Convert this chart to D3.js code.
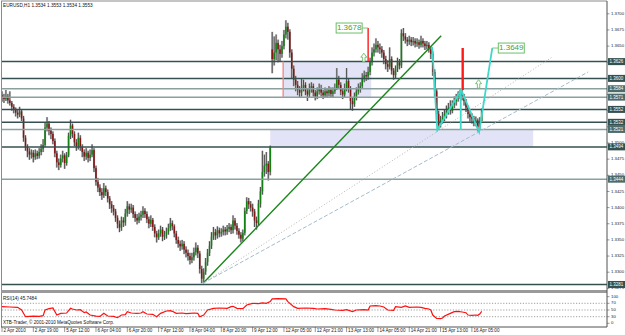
<!DOCTYPE html>
<html><head><meta charset="utf-8">
<script src="https://cdn.jsdelivr.net/npm/d3@7"></script>
<style>body{margin:0;background:#fff;} svg{display:block;font-family:"Liberation Sans",Arial,sans-serif;}</style>
</head><body><svg id="c" width="625" height="335"></svg>
<script>
// ---------- DATA ----------
const titleText = "EURUSD,H1  1.3534 1.3553 1.3534 1.3553";
const firstOpen = 1.3574;
const gapBars = [138];
const gapOpens = [1.3645];
const closes = [
1.3570,1.3568,1.3572,1.3566,1.3562,1.3556,1.3551,1.3547,1.3544,1.3549,
1.3538,1.3508,1.3494,1.3487,1.3482,1.3485,1.3478,1.3484,1.3480,1.3486,
1.3491,1.3497,1.3524,1.3530,1.3519,1.3514,1.3503,1.3484,1.3470,1.3466,
1.3476,1.3481,1.3469,1.3481,1.3511,1.3527,1.3514,1.3501,1.3495,1.3508,
1.3494,1.3486,1.3479,1.3485,1.3477,1.3482,1.3489,1.3461,1.3440,1.3431,
1.3424,1.3419,1.3430,1.3424,1.3414,1.3405,1.3399,1.3394,1.3384,1.3375,
1.3369,1.3380,1.3377,1.3391,1.3402,1.3397,1.3400,1.3390,1.3384,1.3380,
1.3386,1.3389,1.3395,1.3390,1.3382,1.3375,1.3381,1.3370,1.3360,1.3354,
1.3360,1.3366,1.3355,1.3358,1.3363,1.3368,1.3376,1.3371,1.3360,1.3350,
1.3344,1.3340,1.3344,1.3335,1.3330,1.3325,1.3319,1.3323,1.3331,1.3338,
1.3329,1.3305,1.3290,1.3301,1.3316,1.3330,1.3341,1.3355,1.3362,1.3357,
1.3365,1.3360,1.3362,1.3366,1.3363,1.3367,1.3370,1.3365,1.3380,1.3372,
1.3364,1.3358,1.3352,1.3361,1.3395,1.3410,1.3405,1.3400,1.3394,1.3380,
1.3376,1.3406,1.3425,1.3455,1.3465,1.3468,1.3455,1.3493,1.3630,1.3640,
1.3655,1.3645,1.3638,1.3650,1.3668,1.3680,1.3672,1.3640,1.3615,1.3598,
1.3590,1.3582,1.3578,1.3586,1.3590,1.3580,1.3575,1.3585,1.3588,1.3578,
1.3572,1.3580,1.3585,1.3578,1.3574,1.3580,1.3577,1.3582,1.3576,1.3580,
1.3585,1.3598,1.3590,1.3580,1.3575,1.3585,1.3596,1.3585,1.3565,1.3560,
1.3572,1.3580,1.3585,1.3588,1.3600,1.3605,1.3603,1.3610,1.3625,1.3640,
1.3645,1.3652,1.3648,1.3645,1.3640,1.3630,1.3622,1.3618,1.3630,1.3612,
1.3605,1.3615,1.3625,1.3620,1.3670,1.3665,1.3660,1.3657,1.3660,1.3656,
1.3658,1.3654,1.3656,1.3652,1.3658,1.3654,1.3650,1.3652,1.3645,1.3638,
1.3610,1.3580,1.3545,1.3528,1.3535,1.3540,1.3545,1.3550,1.3555,1.3550,
1.3560,1.3565,1.3570,1.3575,1.3578,1.3572,1.3565,1.3555,1.3545,1.3540,
1.3538,1.3532,1.3535,1.3525,1.3534,1.3553];
const highs = [
1.3580,1.3576,1.3582,1.3576,1.3580,1.3565,1.3560,1.3555,1.3552,1.3556,
1.3552,1.3542,1.3512,1.3498,1.3492,1.3490,1.3489,1.3490,1.3488,1.3492,
1.3498,1.3506,1.3532,1.3540,1.3534,1.3524,1.3518,1.3507,1.3488,1.3476,
1.3482,1.3488,1.3484,1.3486,1.3516,1.3536,1.3530,1.3518,1.3506,1.3516,
1.3512,1.3498,1.3490,1.3492,1.3488,1.3490,1.3498,1.3492,1.3465,1.3446,
1.3436,1.3430,1.3438,1.3434,1.3428,1.3418,1.3410,1.3404,1.3398,1.3388,
1.3380,1.3386,1.3385,1.3398,1.3410,1.3406,1.3406,1.3404,1.3394,1.3390,
1.3392,1.3395,1.3402,1.3399,1.3394,1.3386,1.3388,1.3384,1.3374,1.3364,
1.3366,1.3372,1.3370,1.3364,1.3369,1.3375,1.3384,1.3380,1.3374,1.3364,
1.3355,1.3349,1.3350,1.3348,1.3340,1.3335,1.3330,1.3330,1.3338,1.3346,
1.3342,1.3333,1.3310,1.3306,1.3322,1.3336,1.3348,1.3362,1.3370,1.3367,
1.3371,1.3369,1.3368,1.3372,1.3370,1.3373,1.3376,1.3374,1.3388,1.3384,
1.3376,1.3368,1.3362,1.3366,1.3400,1.3416,1.3415,1.3410,1.3406,1.3398,
1.3386,1.3412,1.3432,1.3488,1.3482,1.3486,1.3472,1.3496,1.3672,1.3665,
1.3668,1.3660,1.3652,1.3658,1.3675,1.3690,1.3686,1.3676,1.3645,1.3620,
1.3604,1.3596,1.3588,1.3600,1.3598,1.3594,1.3584,1.3592,1.3594,1.3592,
1.3582,1.3586,1.3592,1.3590,1.3582,1.3586,1.3584,1.3588,1.3586,1.3586,
1.3592,1.3616,1.3604,1.3594,1.3584,1.3592,1.3616,1.3600,1.3588,1.3570,
1.3578,1.3586,1.3592,1.3594,1.3608,1.3612,1.3610,1.3618,1.3632,1.3648,
1.3654,1.3662,1.3658,1.3654,1.3650,1.3644,1.3635,1.3628,1.3648,1.3634,
1.3616,1.3620,1.3632,1.3630,1.3676,1.3678,1.3670,1.3664,1.3666,1.3664,
1.3664,1.3662,1.3662,1.3660,1.3666,1.3662,1.3658,1.3658,1.3656,1.3650,
1.3642,1.3614,1.3584,1.3550,1.3542,1.3548,1.3552,1.3558,1.3562,1.3566,
1.3566,1.3572,1.3576,1.3580,1.3583,1.3582,1.3576,1.3568,1.3558,1.3550,
1.3546,1.3542,1.3541,1.3538,1.3540,1.3553];
const lows = [
1.3564,1.3562,1.3565,1.3561,1.3558,1.3550,1.3546,1.3541,1.3538,1.3540,
1.3534,1.3502,1.3488,1.3478,1.3474,1.3476,1.3470,1.3474,1.3475,1.3476,
1.3481,1.3486,1.3494,1.3518,1.3512,1.3506,1.3498,1.3478,1.3462,1.3458,
1.3462,1.3470,1.3460,1.3465,1.3478,1.3506,1.3508,1.3495,1.3488,1.3490,
1.3488,1.3478,1.3472,1.3474,1.3470,1.3472,1.3478,1.3455,1.3434,1.3424,
1.3418,1.3412,1.3415,1.3418,1.3408,1.3398,1.3392,1.3388,1.3378,1.3368,
1.3362,1.3364,1.3370,1.3372,1.3386,1.3390,1.3392,1.3384,1.3378,1.3374,
1.3376,1.3380,1.3384,1.3384,1.3376,1.3368,1.3370,1.3364,1.3354,1.3346,
1.3350,1.3355,1.3348,1.3350,1.3352,1.3358,1.3364,1.3365,1.3354,1.3344,
1.3338,1.3333,1.3335,1.3328,1.3323,1.3318,1.3312,1.3314,1.3318,1.3326,
1.3322,1.3298,1.3283,1.3285,1.3296,1.3310,1.3325,1.3336,1.3350,1.3350,
1.3352,1.3354,1.3355,1.3357,1.3357,1.3358,1.3362,1.3359,1.3360,1.3366,
1.3358,1.3352,1.3346,1.3348,1.3357,1.3390,1.3398,1.3394,1.3386,1.3370,
1.3366,1.3372,1.3400,1.3420,1.3448,1.3452,1.3442,1.3450,1.3608,1.3620,
1.3628,1.3625,1.3626,1.3632,1.3645,1.3662,1.3660,1.3632,1.3600,1.3588,
1.3580,1.3574,1.3570,1.3572,1.3580,1.3574,1.3565,1.3570,1.3578,1.3572,
1.3566,1.3568,1.3575,1.3572,1.3568,1.3570,1.3570,1.3572,1.3570,1.3570,
1.3576,1.3582,1.3584,1.3574,1.3568,1.3570,1.3580,1.3578,1.3552,1.3550,
1.3556,1.3566,1.3575,1.3578,1.3584,1.3594,1.3596,1.3598,1.3605,1.3620,
1.3634,1.3640,1.3640,1.3638,1.3632,1.3622,1.3614,1.3610,1.3614,1.3606,
1.3598,1.3600,1.3610,1.3614,1.3616,1.3658,1.3654,1.3650,1.3652,1.3650,
1.3651,1.3648,1.3649,1.3646,1.3648,1.3648,1.3644,1.3645,1.3640,1.3630,
1.3604,1.3572,1.3536,1.3520,1.3524,1.3530,1.3534,1.3538,1.3544,1.3544,
1.3546,1.3554,1.3558,1.3564,1.3568,1.3566,1.3558,1.3548,1.3538,1.3533,
1.3530,1.3526,1.3526,1.3518,1.3520,1.3534];

const priceTicks = [1.3700,1.3675,1.3650,1.3625,1.3600,1.3575,1.3550,1.3525,1.3500,1.3475,1.3450,1.3425,1.3400,1.3375,1.3350,1.3325,1.3300,1.3275];
const levelPrices = [1.3626,1.3600,1.3584,1.3571,1.3552,1.3532,1.3521,1.3494,1.3444,1.3281];
const levelTones  = ["dark","dark","light","light","dark","dark","light","dark","light","dark"];

const dateBars = [0,16,32,48,64,80,96,112,128,144,160,176,192,208,224,240];
const dateLabels = ["2 Apr 2010","2 Apr 19:00","5 Apr 12:00","6 Apr 04:00","6 Apr 20:00","7 Apr 12:00","8 Apr 04:00","8 Apr 20:00","9 Apr 12:00","12 Apr 05:00","12 Apr 21:00","13 Apr 13:00","14 Apr 05:00","14 Apr 21:00","15 Apr 13:00","16 Apr 05:00"];

const rsiBars = [0,4,8,10,12,14,16,19,21,22,24,26,28,30,33,35,36,38,40,42,43,45,48,50,52,54,57,59,61,63,64,66,69,71,72,74,77,79,81,84,86,87,89,92,94,96,98,100,101,103,105,108,111,115,117,118,120,123,125,128,131,133,135,137,138,141,145,146,149,151,155,159,161,165,168,170,174,176,179,181,185,187,188,191,193,195,197,200,201,204,206,208,212,214,216,218,219,220,222,224,225,226,229,231,233,235,237,238,240,242,243,244,245];
const rsiValues = [60,59,58,50,30,31,32,31,33,50,54,56,35,40,41,55,53,50,51,42,44,35,32,31,40,32,31,27,35,36,45,41,40,41,45,38,37,30,40,47,48,46,40,41,39,40,41,40,30,35,50,55,56,55,60,61,55,54,65,70,69,71,70,75,83,84,83,75,60,55,56,55,53,54,52,50,49,51,45,50,51,50,62,63,62,59,50,49,60,58,62,58,59,58,55,53,50,35,25,24,26,32,40,45,46,44,42,35,34,35,34,38,45.7484];
const rsiLevels = [70,50,30];
const rsiTicks = [100,70,50,30,0];

// objects (bar index, price)
const rectBarStart = [143.6,137];
const rectBarEnd = [188.6,271.3];
const rectTop = [1.3626,1.3521];
const rectBottom = [1.3571,1.3494];
const trendStart = [[102.7,1.3283],[102.7,1.3283],[102.7,1.3283]];
const trendEnd = [[224.3,1.3666],[281,1.3633],[299.4,1.3610]];
const trendKinds = ["green","dotted","dashed"];
const cyanPath1 = [[219.7,1.3649],[222.3,1.3520],[234.5,1.3582],[243.7,1.3517],[250.4,1.3647]];
const cyanPath2 = [[234.3,1.3582],[234.3,1.3520]];
const redBars = [143.6,187,235.3];
const redTop = [1.3626,1.3678,1.3647];
const redBottom = [1.3571,1.3627,1.3582];
const priceTags = ["1.3678","1.3649"];
const tagBars = [187,250.4];
const tagPrices = [1.3678,1.3647];
const arrowBars = [184.8,243.4];
const arrowPrices = [1.3639,1.3598];

// ---------- SCALES ----------
const svg = d3.select("#c");
const x = d3.scaleLinear().domain([0,309]).range([2,607]);
const y = d3.scaleLinear().domain([1.3275,1.3700]).range([288.35,13.8]);
const ry = d3.scaleLinear().domain([0,100]).range([326.75,293.25]);

const defs = svg.append("defs");
defs.append("clipPath").attr("id","mainclip").append("rect").attr("x",2).attr("y",1.5).attr("width",605).attr("height",288.5);
defs.append("clipPath").attr("id","rsiclip").append("rect").attr("x",2).attr("y",293.5).attr("width",605).attr("height",33);

const main = svg.append("g").attr("clip-path","url(#mainclip)");

// rectangles
main.selectAll("rect.zone").data(rectTop).join("rect").attr("class","zone")
  .attr("x",(d,i)=>x(rectBarStart[i])).attr("width",(d,i)=>x(rectBarEnd[i])-x(rectBarStart[i]))
  .attr("y",(d,i)=>y(rectTop[i])).attr("height",(d,i)=>y(rectBottom[i])-y(rectTop[i]))
  .attr("fill","#e3e3f7");

// candles
const bars = closes.map((c,i)=>{
  const gi = gapBars.indexOf(i);
  const o = i===0 ? firstOpen : (gi>=0 ? gapOpens[gi] : closes[i-1]);
  return {i,o,c,h:highs[i],l:lows[i]};
});
const cg = main.append("g");
cg.selectAll("rect.halo").data(bars).join("rect").attr("class","halo")
  .attr("x",d=>x(d.i)-1.1).attr("width",2.2)
  .attr("y",d=>y(d.h)).attr("height",d=>Math.max(1,y(d.l)-y(d.h)))
  .attr("fill","#c4c4c4");
cg.selectAll("line.wick").data(bars).join("line").attr("class","wick")
  .attr("x1",d=>x(d.i)).attr("x2",d=>x(d.i)).attr("y1",d=>y(d.h)).attr("y2",d=>y(d.l))
  .attr("stroke","#2e2e2e").attr("stroke-width",0.8);
cg.selectAll("rect.body").data(bars).join("rect").attr("class","body")
  .attr("x",d=>x(d.i)-0.75).attr("width",1.5)
  .attr("y",d=>y(Math.max(d.o,d.c))).attr("height",d=>Math.max(0.8,Math.abs(y(d.o)-y(d.c))))
  .attr("fill",d=>d.c>=d.o?"#118211":"#861414");

// horizontal levels
main.selectAll("line.lvl").data(levelPrices).join("line").attr("class","lvl")
  .attr("x1",2).attr("x2",607).attr("y1",d=>y(d)).attr("y2",d=>y(d))
  .attr("stroke",(d,i)=>levelTones[i]==="dark"?"#34504f":"#8aa0a0").attr("stroke-width",1.5);

// trend lines
main.selectAll("line.trend").data(trendKinds).join("line").attr("class","trend")
  .attr("x1",(d,i)=>x(trendStart[i][0])).attr("y1",(d,i)=>y(trendStart[i][1]))
  .attr("x2",(d,i)=>x(trendEnd[i][0])).attr("y2",(d,i)=>y(trendEnd[i][1]))
  .attr("stroke",d=>d==="green"?"#1a861a":(d==="dotted"?"#b4b4b4":"#a3bccb"))
  .attr("stroke-width",d=>d==="green"?1.4:1)
  .attr("stroke-dasharray",d=>d==="green"?null:(d==="dotted"?"1,2":"4,2"));

// red verticals
main.selectAll("line.red").data(redBars).join("line").attr("class","red")
  .attr("x1",d=>x(d)).attr("x2",d=>x(d))
  .attr("y1",(d,i)=>y(redTop[i])).attr("y2",(d,i)=>y(redBottom[i]))
  .attr("stroke",(d,i)=>i===0?"#f08a8a":"#ff1a1a").attr("stroke-width",(d,i)=>i===2?2.4:1.4);

// cyan pattern
const ln = d3.line().x(d=>x(d[0])).y(d=>y(d[1]));
[cyanPath1,cyanPath2].forEach(p=>main.append("path").attr("d",ln(p)).attr("fill","none")
  .attr("stroke","#3fd8c8").attr("stroke-width",1.8));

// arrows
arrowBars.forEach((b,i)=>{
  const cx=x(b), ty=y(arrowPrices[i]);
  const pts=[[cx,ty],[cx+3,ty+4],[cx+1.2,ty+4],[cx+1.2,ty+8.5],[cx-1.2,ty+8.5],[cx-1.2,ty+4],[cx-3,ty+4]];
  main.append("polygon").attr("points",pts.map(p=>p.join(",")).join(" "))
    .attr("fill","#fff").attr("stroke","#57b557").attr("stroke-width",0.8);
});

// price tags
priceTags.forEach((t,i)=>{
  const px=x(tagBars[i]), py=y(tagPrices[i]);
  const w=26, h=10;
  const bx = i===0 ? px-6-w : px+6;
  svg.append("line").attr("x1",i===0?bx+w:px).attr("x2",i===0?px:bx).attr("y1",py).attr("y2",py)
    .attr("stroke","#5cb85c").attr("stroke-width",0.8);
  svg.append("rect").attr("x",bx).attr("y",py-h/2).attr("width",w).attr("height",h)
    .attr("fill","#fff").attr("stroke","#5cb85c").attr("stroke-width",0.9);
  svg.append("text").attr("x",bx+w/2).attr("y",py+0.3).attr("text-anchor","middle")
    .attr("dominant-baseline","middle").attr("font-size",8).attr("fill","#3f9f3f").text(t);
});

// frame
svg.append("line").attr("x1",1).attr("x2",607).attr("y1",1).attr("y2",1).attr("stroke","#8a8a8a");
svg.append("line").attr("x1",1.5).attr("x2",1.5).attr("y1",1).attr("y2",327).attr("stroke","#8a8a8a");
svg.append("rect").attr("x",1).attr("y",290).attr("width",606).attr("height",3).attr("fill","#9a9a9a");
svg.append("line").attr("x1",1).attr("x2",607).attr("y1",327).attr("y2",327).attr("stroke","#505050");
svg.append("line").attr("x1",607).attr("x2",607).attr("y1",1).attr("y2",327).attr("stroke","#505050");

// price axis (tick labels hidden where a level tag sits on top of them, as in the terminal)
const visibleTicks = priceTicks.filter(t=>levelPrices.every(l=>Math.abs(y(t)-y(l))>=3.5));
const pa = svg.append("g");
pa.selectAll("line").data(priceTicks).join("line").attr("x1",607).attr("x2",609.5)
  .attr("y1",d=>y(d)).attr("y2",d=>y(d)).attr("stroke","#505050").attr("stroke-width",0.6);
pa.selectAll("text").data(visibleTicks).join("text").attr("x",611).attr("y",d=>y(d))
  .attr("dominant-baseline","middle").attr("font-size",4.3).attr("fill","#222").text(d=>d.toFixed(4));

// level labels
const lb = svg.append("g");
lb.selectAll("rect").data(levelPrices).join("rect").attr("x",608).attr("y",d=>y(d)-3.5)
  .attr("width",17).attr("height",7).attr("fill",(d,i)=>levelTones[i]==="dark"?"#34504f":"#4f6a6a");
lb.selectAll("text").data(levelPrices).join("text").attr("x",616.5).attr("y",d=>y(d)+0.2)
  .attr("text-anchor","middle").attr("dominant-baseline","middle").attr("font-size",4.5)
  .attr("fill","#fff").text(d=>d.toFixed(4));

// title
svg.append("text").attr("x",3).attr("y",5.5).attr("dominant-baseline","middle").attr("font-size",4.7)
  .attr("fill","#111").text(titleText);

// RSI panel
const rg = svg.append("g").attr("clip-path","url(#rsiclip)");
rg.selectAll("line").data(rsiLevels).join("line").attr("x1",2).attr("x2",607)
  .attr("y1",d=>ry(d)).attr("y2",d=>ry(d)).attr("stroke","#777").attr("stroke-width",0.7).attr("stroke-dasharray","1.2,1.6");
rg.append("path").attr("d",d3.line().x(d=>x(d[0])).y(d=>ry(d[1]))(rsiBars.map((b,i)=>[b,rsiValues[i]])))
  .attr("fill","none").attr("stroke","#ff1010").attr("stroke-width",1.2);
const rlab = [296.7,303.3,310,316.7,323.3];
svg.selectAll("text.rt").data(rsiTicks).join("text").attr("class","rt").attr("x",611)
  .attr("y",(d,i)=>rlab[i]).attr("dominant-baseline","middle").attr("font-size",4.3).attr("fill","#222").text(d=>d);
svg.selectAll("line.rtk").data(rsiTicks).join("line").attr("class","rtk").attr("x1",607).attr("x2",609.5)
  .attr("y1",(d,i)=>rlab[i]).attr("y2",(d,i)=>rlab[i]).attr("stroke","#505050").attr("stroke-width",0.6);
svg.append("text").attr("x",3).attr("y",298.5).attr("dominant-baseline","middle").attr("font-size",4.6)
  .attr("fill","#111").text("RSI(14) 45.7484");
svg.append("text").attr("x",3).attr("y",322.5).attr("dominant-baseline","middle").attr("font-size",4.6)
  .attr("fill","#111").text("XTB-Trader, © 2001-2010 MetaQuotes Software Corp.");

// date axis
const da = svg.append("g");
da.selectAll("line").data(dateBars).join("line").attr("x1",d=>x(d)).attr("x2",d=>x(d))
  .attr("y1",327).attr("y2",332).attr("stroke","#505050").attr("stroke-width",0.6);
da.selectAll("text").data(dateBars).join("text").attr("x",d=>x(d)+1.5).attr("y",331)
  .attr("dominant-baseline","middle").attr("font-size",4.6).attr("fill","#222").text((d,i)=>dateLabels[i]);
</script>
</body></html>
